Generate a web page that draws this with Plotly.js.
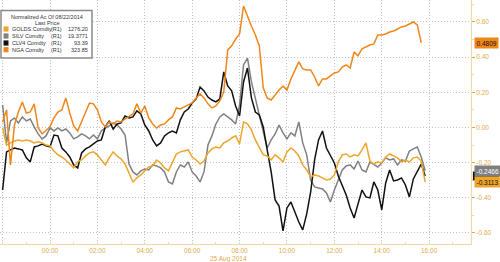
<!DOCTYPE html>
<html><head><meta charset="utf-8">
<script src="https://cdn.plot.ly/plotly-3.0.1.min.js"></script>
<style>html,body{margin:0;padding:0;background:#fff;}#chart{width:500px;height:262px;}</style>
</head><body><div id="chart"></div>
<script>
// ---- data ----
const startTime = '2014-08-24 22:00';
const stepMinutes = 10;
const seriesNames = ['GOLDS Comdty', 'SILV Comdty', 'CLV4 Comdty', 'NGA Comdty'];
const seriesTags = ['(R1)', '(R1)', '(R1)', '(R1)'];
const lastPrices = ['1276.20', '19.3771', '93.39', '323.85'];
const legendTitle = 'Normalized Ac Of 08/22/2014';
const legendSubtitle = 'Last Price';
const dateLabel = '25 Aug 2014';
const yTickVals = [-0.6, -0.4, -0.2, 0, 0.2, 0.4, 0.6];

const golds = [-0.003,-0.100,-0.088,-0.077,-0.071,-0.077,-0.071,-0.077,-0.088,-0.082,
-0.088,-0.100,-0.105,-0.134,-0.156,-0.168,-0.185,-0.208,-0.230,-0.196,
-0.185,-0.162,-0.145,-0.139,-0.156,-0.185,-0.213,-0.173,-0.139,-0.162,
-0.179,-0.208,-0.259,-0.310,-0.287,-0.270,-0.247,-0.225,-0.219,-0.185,
-0.202,-0.230,-0.247,-0.202,-0.151,-0.139,-0.134,-0.128,-0.168,-0.185,
-0.208,-0.191,-0.145,-0.122,-0.111,-0.117,-0.088,-0.077,-0.060,-0.048,
-0.094,0.031,0.020,-0.014,-0.071,-0.117,-0.156,-0.162,-0.185,-0.156,
-0.173,-0.196,-0.139,-0.117,-0.134,-0.162,-0.213,-0.242,-0.282,-0.270,
-0.276,-0.287,-0.299,-0.293,-0.270,-0.196,-0.156,-0.151,-0.168,-0.156,
-0.162,-0.128,-0.088,-0.191,-0.208,-0.196,-0.202,-0.168,-0.151,-0.162,
-0.173,-0.196,-0.185,-0.196,-0.173,-0.168,-0.191,-0.3113];

const silv = [0.128,-0.088,0.037,0.054,0.026,0.060,0.037,0.048,0.003,-0.037,
-0.065,-0.048,-0.003,-0.020,-0.003,-0.020,-0.009,-0.031,-0.065,-0.054,
-0.037,-0.048,-0.065,-0.043,-0.065,-0.020,-0.003,0.009,0.026,0.014,
-0.009,-0.043,-0.208,-0.253,-0.270,-0.247,-0.236,-0.242,-0.213,-0.219,
-0.230,-0.253,-0.310,-0.321,-0.253,-0.213,-0.225,-0.196,-0.253,-0.276,
-0.310,-0.253,-0.100,-0.048,0.020,0.060,0.077,0.060,0.043,0.020,
0.128,0.356,0.395,0.259,0.168,0.071,-0.014,-0.117,-0.071,-0.037,
0.014,-0.031,-0.065,-0.031,-0.048,0.031,-0.088,-0.156,-0.299,-0.338,
-0.344,-0.350,-0.373,-0.424,-0.356,-0.299,-0.242,-0.219,-0.213,-0.236,
-0.191,-0.242,-0.253,-0.196,-0.213,-0.225,-0.202,-0.173,-0.185,-0.179,
-0.213,-0.185,-0.191,-0.134,-0.122,-0.111,-0.168,-0.2466];

const clv4 = [-0.356,-0.139,-0.128,-0.117,-0.122,-0.128,-0.173,-0.196,-0.111,-0.105,
-0.094,-0.105,-0.111,-0.043,-0.048,-0.117,-0.139,-0.168,-0.213,-0.230,
-0.145,-0.122,-0.111,-0.094,-0.077,-0.071,0.003,0.037,-0.009,0.020,
0.026,0.065,0.054,0.060,0.094,0.077,0.014,-0.020,-0.071,-0.105,
-0.088,-0.048,-0.031,-0.020,-0.031,0.043,0.088,0.105,0.139,0.162,
0.230,0.208,0.173,0.156,0.145,0.162,0.316,0.236,0.208,0.122,
0.065,0.259,0.338,0.168,0.088,0.071,0.003,-0.128,-0.253,-0.412,
-0.447,-0.589,-0.458,-0.424,-0.481,-0.538,-0.583,-0.492,-0.367,-0.185,
-0.071,-0.020,-0.117,-0.156,-0.202,-0.276,-0.327,-0.384,-0.458,-0.515,
-0.435,-0.356,-0.395,-0.401,-0.310,-0.356,-0.469,-0.316,-0.242,-0.304,
-0.299,-0.287,-0.327,-0.395,-0.293,-0.253,-0.208,-0.276];

const nga = [0.031,0.100,-0.213,0.014,0.088,0.145,0.082,0.088,0.134,-0.003,
-0.037,-0.014,0.003,0.054,0.088,0.100,0.168,0.082,0.009,-0.020,
0.031,0.082,0.139,0.134,0.100,0.031,0.003,0.031,0.020,0.037,
0.031,0.048,0.065,0.077,0.134,0.082,0.122,0.054,0.020,-0.003,
0.014,0.020,0.043,0.060,0.111,0.105,0.117,0.128,0.139,0.168,
0.191,0.168,0.134,0.111,0.122,0.151,0.202,0.441,0.464,0.503,
0.532,0.691,0.629,0.577,0.526,0.464,0.225,0.168,0.156,0.185,
0.213,0.236,0.213,0.276,0.327,0.373,0.333,0.327,0.327,0.287,
0.236,0.276,0.276,0.293,0.310,0.316,0.344,0.356,0.338,0.429,
0.407,0.447,0.458,0.469,0.475,0.526,0.526,0.532,0.543,0.549,
0.560,0.572,0.577,0.589,0.600,0.583,0.4809];

// ---- styling ----
const colors = ['#eea52c', '#808080', '#111111', '#f0861a'];
const labelFont = 'Liberation Sans, Arial, sans-serif';
const tickColor = '#e2aa4e';
const axisLineColor = '#f1d9a6';
const gridColor = '#c2c2c2';
const gridDash = '1px,2px';

function timeAt(i) {
  const base = Date.UTC(2014, 7, 24, 22, 0);
  const d = new Date(base + i * stepMinutes * 60000);
  const p = n => String(n).padStart(2, '0');
  return d.getUTCFullYear() + '-' + p(d.getUTCMonth() + 1) + '-' + p(d.getUTCDate()) + ' ' + p(d.getUTCHours()) + ':' + p(d.getUTCMinutes());
}
function times(n) { const a = []; for (let i = 0; i < n; i++) a.push(timeAt(i)); return a; }

const allSeries = [golds, silv, clv4, nga];
const drawOrder = [1, 2, 0, 3];
const traces = drawOrder.map(k => ({
  type: 'scatter', mode: 'lines', name: seriesNames[k],
  x: times(allSeries[k].length), y: allSeries[k],
  line: {color: colors[k], width: 1.5}, hoverinfo: 'skip'
}));

const W = 471, H = 244; // plot area in px
const px = v => v / W, py = v => 1 - v / H;

const shapes = [
  {type: 'rect', xref: 'paper', yref: 'paper', x0: px(1), x1: px(92), y0: py(58), y1: py(10.5),
   line: {color: '#8a8a8a', width: 1.5}, fillcolor: '#ffffff', layer: 'above'}
];
const legFont = {family: labelFont, size: 5.5, color: '#333'};
const annotations = [
  {xref: 'paper', yref: 'paper', x: px(46.5), y: py(16.5), text: legendTitle, showarrow: false,
   font: legFont, xanchor: 'center', yanchor: 'middle'},
  {xref: 'paper', yref: 'paper', x: px(46.5), y: py(23), text: legendSubtitle, showarrow: false,
   font: legFont, xanchor: 'center', yanchor: 'middle'}
];
const rowY = [29, 36, 43, 49.7];
seriesNames.forEach((nm, k) => {
  shapes.push({type: 'rect', xref: 'paper', yref: 'paper', x0: px(3.5), x1: px(8.5), y0: py(rowY[k] + 2.6), y1: py(rowY[k] - 2.6),
    line: {width: 0}, fillcolor: colors[k], layer: 'above'});
  annotations.push({xref: 'paper', yref: 'paper', x: px(10), y: py(rowY[k]), text: nm, showarrow: false,
    font: legFont, xanchor: 'left', yanchor: 'middle'});
  annotations.push({xref: 'paper', yref: 'paper', x: px(49), y: py(rowY[k]), text: seriesTags[k], showarrow: false,
    font: legFont, xanchor: 'left', yanchor: 'middle'});
  annotations.push({xref: 'paper', yref: 'paper', x: px(89.5), y: py(rowY[k]), text: lastPrices[k], showarrow: false,
    font: legFont, xanchor: 'right', yanchor: 'middle'});
});
// marker for CL last value (mostly hidden behind the other labels, as in the reference)
const clLast = clv4[clv4.length - 1];
shapes.push({type: 'rect', xref: 'paper', yref: 'y', x0: 1.004, x1: 1.06, y0: clLast - 0.025, y1: clLast + 0.025,
  line: {width: 0}, fillcolor: '#111', layer: 'above'});
// last value labels
const endLabels = [
  {k: 1, val: silv[silv.length - 1], bg: '#7f7f7f', fc: '#ffffff'},
  {k: 0, val: golds[golds.length - 1], bg: '#eea52c', fc: '#111'},
  {k: 3, val: nga[nga.length - 1], bg: '#f0861a', fc: '#111'}
];
endLabels.forEach(e => annotations.push({
  xref: 'paper', yref: 'y', x: 1, xshift: 3, y: e.val, text: e.val.toFixed(4), showarrow: false,
  xanchor: 'left', yanchor: 'middle', bgcolor: e.bg, borderpad: 1.5,
  font: {family: labelFont, size: 6.5, color: e.fc}
}));
annotations.push({xref: 'x', yref: 'paper', x: '2014-08-25 08:00', xshift: 9, y: 0, yshift: -14.5,
  text: dateLabel, showarrow: false, xanchor: 'right', yanchor: 'middle',
  font: {family: labelFont, size: 6.5, color: tickColor}});

const layout = {
  width: 500, height: 262,
  margin: {l: 0, r: 29, t: 0, b: 18, pad: 0},
  paper_bgcolor: '#ffffff', plot_bgcolor: '#ffffff',
  showlegend: false,
  xaxis: {
    type: 'date', range: ['2014-08-24 21:53:24', '2014-08-25 17:46'],
    tick0: '2014-08-25 00:00', dtick: 7200000, tickformat: '%H:%M',
    showgrid: true, gridcolor: gridColor, griddash: gridDash, gridwidth: 1,
    showline: true, linecolor: axisLineColor, linewidth: 1,
    ticks: 'inside', ticklen: 2, tickcolor: axisLineColor,
    minor: {dtick: 3600000, ticks: 'inside', ticklen: 2, tickcolor: axisLineColor, showgrid: false},
    tickfont: {family: labelFont, size: 6.5, color: tickColor},
    zeroline: false, fixedrange: true
  },
  yaxis: {
    side: 'right', range: [-0.663, 0.725],
    tickvals: yTickVals, ticktext: yTickVals.map(v => v.toFixed(2)),
    showgrid: true, gridcolor: gridColor, griddash: gridDash, gridwidth: 1,
    showline: true, linecolor: axisLineColor, linewidth: 1,
    ticks: 'outside', ticklen: 3, tickcolor: tickColor,
    minor: {dtick: 0.1, tick0: 0, ticks: 'outside', ticklen: 2, tickcolor: axisLineColor, showgrid: false},
    tickfont: {family: labelFont, size: 6.5, color: tickColor},
    zeroline: false, fixedrange: true
  },
  shapes: shapes,
  annotations: annotations
};

Plotly.newPlot('chart', traces, layout, {staticPlot: true, displayModeBar: false});
</script>
</body></html>
